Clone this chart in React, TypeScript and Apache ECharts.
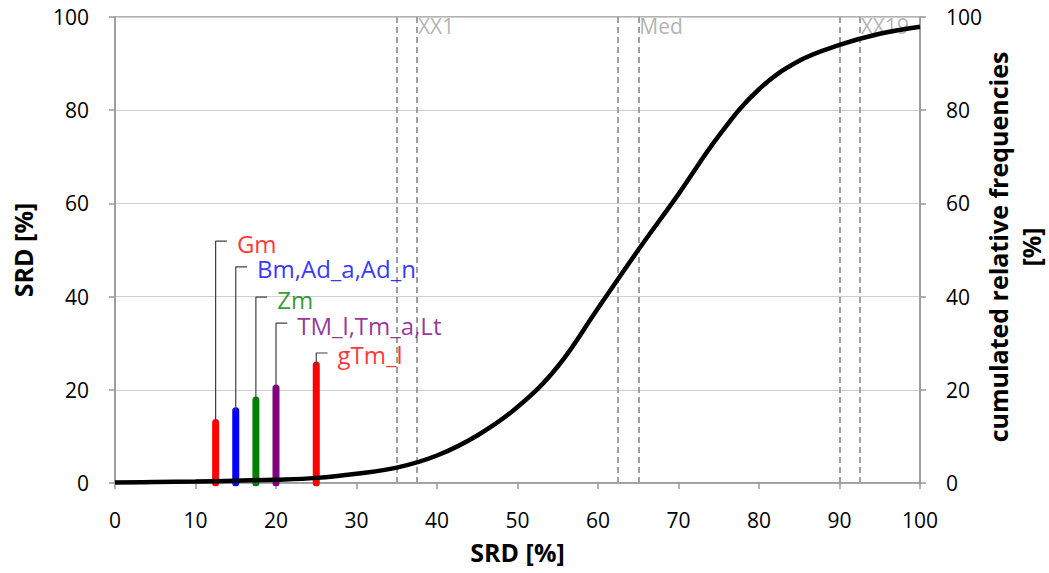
import React, { useEffect, useRef } from "react";
import * as echarts from "echarts";

// cumulative curve
const curveX = [0, 5, 10, 15, 20, 25, 30, 35, 40, 45, 50, 55, 60, 65, 70, 75, 80, 85, 90, 95, 100];
const curveY = [0.1, 0.2, 0.3, 0.5, 0.7, 1.1, 2.0, 3.3, 5.9, 10.2, 16.3, 25.0, 37.5, 50.0, 62.0, 74.5, 84.5, 90.6, 94.0, 96.4, 97.9];

// SRD bars
const groupNames = ["Gm", "Bm,Ad_a,Ad_n", "Zm", "TM_l,Tm_a,Lt", "gTm_l"];
const barX = [12.5, 15, 17.5, 20, 25];
const barY = [13, 15.5, 17.8, 20.4, 25.3];
const labelY = [51.9, 46.4, 39.9, 34.3, 27.9];
const groupColors = ["#ff0000", "#0000ff", "#008000", "#800080", "#ff0000"];

// reference (dashed) lines
const refLines = [35, 37.5, 62.5, 65, 90, 92.5];
const refLabels = ["", "XX1", "", "Med", "", "XX19"];

const yTicks = [0, 20, 40, 60, 80, 100];

const rightTitleLines = ["cumulated relative frequencies", "[%]"];

const FONT = "'Open Sans', 'Noto Sans', sans-serif";
const LEADER_DX = 1.4;

export default function App() {
  const ref = useRef<HTMLDivElement>(null);
  useEffect(() => {
    if (!ref.current) return;
    const chart = echarts.init(ref.current, null, { renderer: "svg" });
    const series: any[] = [];

    groupNames.forEach((name, i) => {
      series.push({
        type: "line",
        name: name + "_bar",
        data: [
          [barX[i], 0],
          [barX[i], barY[i]],
        ],
        symbol: "none",
        lineStyle: { width: 7, color: groupColors[i], cap: "round" },
        z: 3,
      });
      series.push({
        type: "line",
        name: name + "_leader",
        data: [
          [barX[i], barY[i]],
          [barX[i], labelY[i]],
          [barX[i] + LEADER_DX, labelY[i]],
        ],
        symbol: "none",
        lineStyle: { width: 1.2, color: "#404040" },
        z: 4,
      });
      series.push({
        type: "scatter",
        name: name + "_label",
        data: [[barX[i] + LEADER_DX, labelY[i], name]],
        symbolSize: 0,
        label: {
          show: true,
          position: "right",
          distance: 10,
          offset: [0, 2],
          formatter: (p: any) => p.data[2],
          color: groupColors[i],
          fontFamily: FONT,
          fontSize: 24,
          lineHeight: 22,
        },
        z: 5,
      });
    });

    series.push({
      type: "scatter",
      name: "refLabels",
      data: refLines
        .map((x, i) => [x, 100, refLabels[i]])
        .filter((d) => d[2] !== ""),
      symbolSize: 0,
      label: {
        show: true,
        position: "right",
        distance: 1,
        offset: [0, 9],
        formatter: (p: any) => p.data[2],
        color: "#a0a0a0",
        fontFamily: FONT,
        fontSize: 21,
      },
      z: 2,
    });

    series.push({
      type: "line",
      name: "curve",
      data: curveX.map((x, i) => [x, curveY[i]]),
      smooth: 0.4,
      symbol: "none",
      lineStyle: { width: 4.5, color: "#000000" },
      z: 6,
      markLine: {
        silent: true,
        symbol: "none",
        label: { show: false },
        lineStyle: { type: [6, 4], color: "#a0a0a0", width: 2 },
        data: refLines.map((x) => ({ xAxis: x })),
        z: 1,
      },
    });

    const titleXs = [998, 1031];

    chart.setOption({
      animation: false,
      grid: {
        left: 115,
        right: 129,
        top: 17,
        bottom: 90,
        show: true,
        borderColor: "#999999",
        borderWidth: 1.5,
        outerBoundsMode: "none",
        containLabel: false,
      },
      graphic: rightTitleLines.map((t, i) => ({
        type: "text",
        x: titleXs[i],
        y: 247,
        rotation: Math.PI / 2,
        style: {
          text: t,
          fontFamily: FONT,
          fontSize: 25,
          fontWeight: "bold",
          lineHeight: 25,
          fill: "#000",
          align: "center",
          verticalAlign: "middle",
        },
      })),
      xAxis: {
        type: "value",
        min: 0,
        max: 100,
        interval: 10,
        name: "SRD [%]",
        nameLocation: "middle",
        nameGap: 56,
        nameTextStyle: { fontFamily: FONT, fontSize: 25, fontWeight: "bold", color: "#000" },
        axisLine: { show: true, lineStyle: { color: "#999999", width: 1.5 } },
        axisTick: { show: true, length: 6, lineStyle: { color: "#999999", width: 1.5 } },
        axisLabel: { fontFamily: FONT, fontSize: 21, color: "#000", margin: 26 },
        splitLine: { show: false },
      },
      yAxis: [
        {
          type: "value",
          min: yTicks[0],
          max: yTicks[yTicks.length - 1],
          interval: 20,
          position: "left",
          name: "SRD [%]",
          nameLocation: "middle",
          nameRotate: 90,
          nameGap: 80,
          nameTextStyle: { fontFamily: FONT, fontSize: 25, fontWeight: "bold", color: "#000" },
          axisLine: { show: true, lineStyle: { color: "#999999", width: 1.5 } },
          axisTick: { show: true, length: 6, lineStyle: { color: "#999999", width: 1.5 } },
          axisLabel: { fontFamily: FONT, fontSize: 21, color: "#000", margin: 26 },
          splitLine: { show: true, lineStyle: { color: "#d0d0d0", width: 1 } },
        },
        {
          type: "value",
          min: yTicks[0],
          max: yTicks[yTicks.length - 1],
          interval: 20,
          position: "right",
          axisLine: { show: true, lineStyle: { color: "#999999", width: 1.5 } },
          axisTick: { show: true, length: 6, lineStyle: { color: "#999999", width: 1.5 } },
          axisLabel: { fontFamily: FONT, fontSize: 21, color: "#000", margin: 26 },
          splitLine: { show: false },
        },
      ],
      series,
    });
    return () => chart.dispose();
  }, []);
  return (
    <div
      ref={ref}
      style={{ position: "fixed", left: 0, top: 0, width: 1049, height: 573, background: "#fff" }}
    />
  );
}
